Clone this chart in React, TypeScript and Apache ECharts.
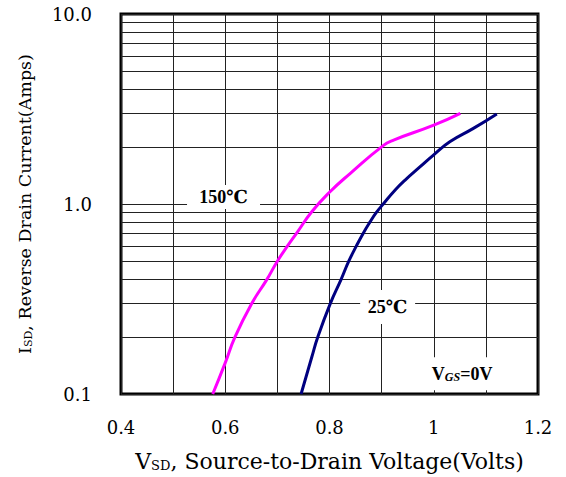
import React, { useEffect, useRef } from "react";
import * as echarts from "echarts";

// 150°C curve (magenta)
const hotV = [0.576, 0.5996, 0.6188, 0.651, 0.6797, 0.7, 0.7192, 0.737, 0.766, 0.801, 0.84, 0.903, 0.923, 1.0, 1.051];
const hotI = [0.1, 0.145, 0.2, 0.3, 0.4, 0.5, 0.6, 0.703, 0.91, 1.16, 1.45, 2.03, 2.17, 2.6, 3.0];
// 25°C curve (navy)
const coldV = [0.7455, 0.7662, 0.7777, 0.8017, 0.8221, 0.837, 0.8514, 0.8645, 0.8772, 0.8896, 0.9031, 0.926, 0.9451, 0.974, 0.9994, 1.0315, 1.076, 1.121];
const coldI = [0.1, 0.157, 0.2, 0.3, 0.4, 0.5, 0.6, 0.7, 0.8, 0.9, 1.0, 1.185, 1.337, 1.572, 1.81, 2.13, 2.5, 2.98];

const yTickValues = [0.1, 1, 10];
const yTickLabels = ["0.1", "1.0", "10.0"];
const minorGrid = [0.2, 0.3, 0.4, 0.5, 0.6, 0.7, 0.8, 0.9, 2, 3, 4, 5, 6, 7, 8, 9];

// annotation labels: [x, y, text, boxW, boxH]
const notes: [number, number, string, number, number][] = [
  [0.5967, 1.088, "{b|150℃}", 73, 24],
  [0.9115, 0.287, "{b|25℃}", 55, 34],
  [1.0545, 0.128, "{b|V}{s|GS}{b|=0V}", 62, 33],
];

const TXT = "'DejaVu Serif', 'Liberation Serif', serif";
const SERIF = "'Liberation Serif', 'DejaVu Serif', serif";

export default function App() {
  const ref = useRef<HTMLDivElement>(null);
  useEffect(() => {
    if (!ref.current) return;
    const chart = echarts.init(ref.current, undefined, { renderer: "svg" });
    const option: any = {
      animation: false,
      backgroundColor: "#fff",
      grid: {
        left: 121,
        top: 14,
        right: 28,
        bottom: 83,
        show: true,
        borderColor: "#000",
        borderWidth: 3,
        backgroundColor: "transparent",
      },
      xAxis: {
        type: "value",
        min: 0.4,
        max: 1.2,
        interval: 0.1,
        axisLine: { show: false },
        axisTick: { show: false },
        splitLine: { show: true, lineStyle: { color: "#222", width: 1 } },
        axisLabel: {
          margin: 24,
          fontFamily: TXT,
          fontSize: 18,
          color: "#000",
          formatter: (v: number) => {
            const k = Math.round(v * 10);
            if (k % 2 !== 0) return "";
            return k === 10 ? "1" : (k / 10).toFixed(1);
          },
        },
        name: "{m|V}{s|SD}{m|, Source-to-Drain Voltage(Volts)}",
        nameLocation: "middle",
        nameGap: 56,
        nameTextStyle: {
          color: "#000",
          rich: {
            m: { fontFamily: TXT, fontSize: 22, color: "#000", verticalAlign: "bottom" },
            s: { fontFamily: TXT, fontSize: 13, color: "#000", verticalAlign: "bottom" },
          },
        },
      },
      yAxis: {
        type: "log",
        logBase: 10,
        min: 0.1,
        max: 10,
        axisLine: { show: false },
        axisTick: { show: false },
        splitLine: { show: true, lineStyle: { color: "#222", width: 1 } },
        axisLabel: {
          margin: 29,
          fontFamily: TXT,
          fontSize: 18,
          color: "#000",
          formatter: (v: number) => {
            const i = yTickValues.findIndex((t) => Math.abs(t - v) < 1e-9 * Math.max(1, t));
            return i >= 0 ? yTickLabels[i] : "";
          },
        },
        name: "{m|I}{s|SD}{m|, Reverse Drain Current(Amps)}",
        nameLocation: "middle",
        nameGap: 87,
        nameTextStyle: {
          color: "#000",
          rich: {
            m: { fontFamily: TXT, fontSize: 17.5, color: "#000", verticalAlign: "bottom" },
            s: { fontFamily: TXT, fontSize: 11, color: "#000", verticalAlign: "bottom" },
          },
        },
      },
      series: [
        {
          name: "150℃",
          type: "line",
          z: 3,
          smooth: 0.5,
          showSymbol: false,
          lineStyle: { color: "#ff00ff", width: 3 },
          data: hotV.map((v, i) => [v, hotI[i]]),
          markLine: {
            silent: true,
            z: 1,
            symbol: "none",
            label: { show: false },
            lineStyle: { color: "#222", width: 1, type: "solid" },
            emphasis: { disabled: true },
            data: minorGrid.map((v) => ({ yAxis: v })),
          },
        },
        {
          name: "25℃",
          type: "line",
          z: 3,
          smooth: 0.5,
          showSymbol: false,
          lineStyle: { color: "#000080", width: 3 },
          data: coldV.map((v, i) => [v, coldI[i]]),
          markPoint: {
            silent: true,
            z: 4,
            symbol: "rect",
            itemStyle: { color: "#fff" },
            label: {
              show: true,
              position: "inside",
              color: "#000",
              rich: {
                b: { fontFamily: SERIF, fontSize: 18, fontWeight: "bold", color: "#000", verticalAlign: "bottom" },
                s: { fontFamily: SERIF, fontSize: 12, fontWeight: "bold", fontStyle: "italic", color: "#000", verticalAlign: "bottom" },
              },
            },
            data: notes.map(([x, y, t, w, h]) => ({
              coord: [x, y],
              symbolSize: [w, h],
              label: { formatter: t },
            })),
          },
        },
      ],
    };
    chart.setOption(option);
    return () => chart.dispose();
  }, []);
  return (
    <div
      ref={ref}
      style={{ position: "fixed", left: 0, top: 0, width: 566, height: 477, background: "#fff" }}
    />
  );
}
